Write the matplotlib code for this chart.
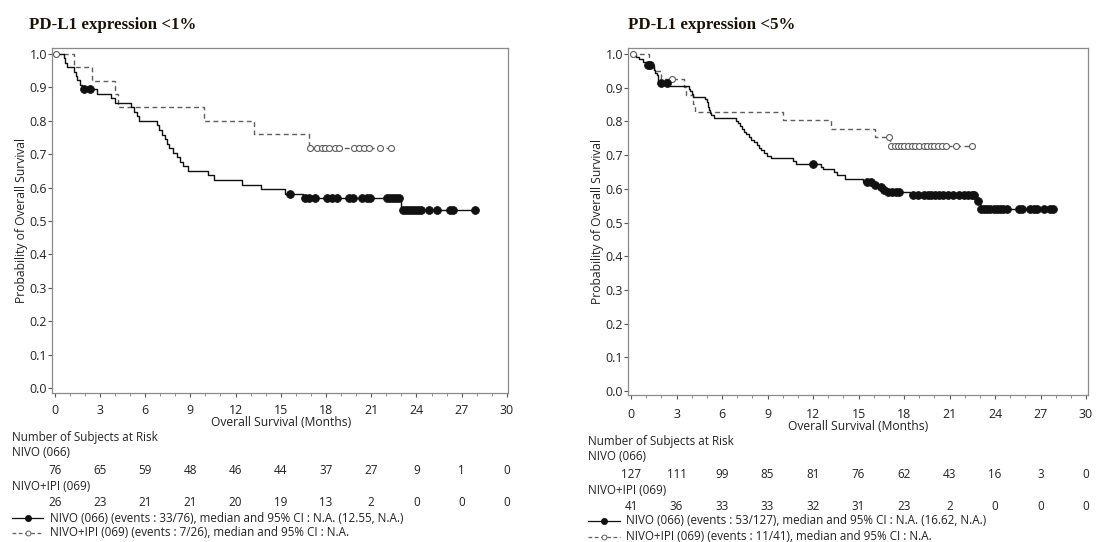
import matplotlib
matplotlib.use("Agg")
import matplotlib.pyplot as plt
from matplotlib.lines import Line2D
from matplotlib.transforms import blended_transform_factory
import numpy as np

W, H = 1109, 542
plt.rcParams['font.family'] = ['Open Sans', 'DejaVu Sans']

# ---------------- data: PD-L1 < 1% ----------------
L_NIVO_T = [0, 0.6, 0.7, 0.85, 1.3, 1.4, 1.5, 1.7, 1.8, 2.8, 3.75, 4.0, 5.1, 5.25, 5.45, 5.6,
            6.8, 6.95, 7.1, 7.3, 7.45, 7.6, 7.85, 8.1, 8.35, 8.55, 8.85, 10.2, 10.55, 12.4,
            13.7, 15.3, 16.5, 23.0]
L_NIVO_S = [1.0, 0.987, 0.974, 0.961, 0.947, 0.934, 0.921, 0.908, 0.895, 0.881, 0.868, 0.854,
            0.841, 0.827, 0.814, 0.800, 0.786, 0.773, 0.759, 0.745, 0.732, 0.718, 0.705, 0.691,
            0.678, 0.664, 0.650, 0.637, 0.623, 0.609, 0.596, 0.582, 0.568, 0.534]
L_NIVO_CENS = [1.95, 2.35, 15.6, 16.6, 16.9, 17.3, 18.05, 18.4, 18.7, 19.5, 19.8, 20.4, 20.7,
               20.95, 22.05, 22.25, 22.45, 22.65, 22.85, 23.1, 23.3, 23.5, 23.7, 23.9, 24.1,
               24.3, 24.8, 25.35, 26.25, 26.45, 27.85]
L_COMB_T = [0, 1.26, 2.5, 4.0, 4.2, 9.9, 13.25, 16.9]
L_COMB_S = [1.0, 0.96, 0.92, 0.88, 0.84, 0.80, 0.76, 0.72]
L_COMB_CENS = [0.1, 16.95, 17.4, 17.75, 17.95, 18.2, 18.6, 18.85, 19.85, 20.2, 20.5, 20.85,
               21.6, 22.3]
L_RISK_NIVO = [76, 65, 59, 48, 46, 44, 37, 27, 9, 1, 0]
L_RISK_COMB = [26, 23, 21, 21, 20, 19, 13, 2, 0, 0, 0]

# ---------------- data: PD-L1 < 5% ----------------
R_NIVO_T = [0, 0.35, 0.5, 0.8, 1.0, 1.4, 1.5, 1.6, 1.7, 1.75, 1.8, 1.85, 2.45, 3.8, 3.9, 4.0,
            4.1, 4.9, 5.0, 5.05, 5.1, 5.15, 5.2, 5.3, 5.45, 6.9, 7.05, 7.2, 7.3, 7.45, 7.6,
            7.75, 7.9, 8.1, 8.3, 8.45, 8.6, 8.8, 8.95, 9.2, 10.7, 10.9, 12.5, 12.65, 13.35,
            13.55, 14.1, 15.3, 16.0, 16.3, 16.6, 16.8, 18.4, 22.75, 23.0]
R_NIVO_S = [1.0, 0.992, 0.984, 0.976, 0.969, 0.961, 0.953, 0.945, 0.937, 0.929, 0.921, 0.913,
            0.905, 0.897, 0.889, 0.881, 0.873, 0.866, 0.858, 0.850, 0.842, 0.834, 0.826, 0.818,
            0.810, 0.802, 0.794, 0.786, 0.778, 0.770, 0.762, 0.754, 0.746, 0.738, 0.730, 0.722,
            0.714, 0.706, 0.698, 0.692, 0.683, 0.675, 0.666, 0.658, 0.649, 0.641, 0.628, 0.620,
            0.612, 0.605, 0.597, 0.590, 0.582, 0.563, 0.541]
R_NIVO_CENS = [1.15, 1.25, 1.95, 2.35, 12.0, 15.55, 15.8, 16.1, 16.45, 16.7, 16.95, 17.2, 17.45,
               17.7, 18.6, 18.95, 19.3, 19.55, 19.8, 20.05, 20.3, 20.6, 20.9, 21.25, 21.6,
               21.95, 22.2, 22.45, 22.6, 22.85, 23.1, 23.3, 23.5, 23.7, 23.9, 24.1, 24.3,
               24.55, 24.8, 25.55, 25.75, 26.3, 26.55, 26.8, 27.2, 27.6, 27.85]
R_COMB_T = [0, 1.2, 1.5, 2.0, 3.5, 3.6, 4.1, 4.2, 10.0, 13.2, 16.1, 17.05]
R_COMB_S = [1.0, 0.976, 0.951, 0.927, 0.902, 0.878, 0.853, 0.829, 0.804, 0.779, 0.754, 0.727]
R_COMB_CENS = [0.1, 2.7, 17.0, 17.15, 17.4, 17.6, 17.8, 18.0, 18.25, 18.5, 18.75, 19.0, 19.3,
               19.5, 19.75, 20.0, 20.25, 20.5, 20.75, 21.4, 22.5]
R_RISK_NIVO = [127, 111, 99, 85, 81, 76, 62, 43, 16, 3, 0]
R_RISK_COMB = [41, 36, 33, 33, 32, 31, 23, 2, 0, 0, 0]

RISK_TIMES = [0, 3, 6, 9, 12, 15, 18, 21, 24, 27, 30]
Y_TICKS = [0.0, 0.1, 0.2, 0.3, 0.4, 0.5, 0.6, 0.7, 0.8, 0.9, 1.0]

TITLES = ["PD-L1 expression <1%", "PD-L1 expression <5%"]
LEG_NIVO = ["NIVO (066) (events : 33/76), median and 95% CI : N.A. (12.55, N.A.)",
            "NIVO (066) (events : 53/127), median and 95% CI : N.A. (16.62, N.A.)"]
LEG_COMB = ["NIVO+IPI (069) (events : 7/26), median and 95% CI : N.A.",
            "NIVO+IPI (069) (events : 11/41), median and 95% CI : N.A."]

NIVO_COLOR = '#111111'
COMB_COLOR = '#5e5e5e'
TXT = '#222222'

fig = plt.figure(figsize=(W / 100, H / 100), dpi=100)
fig.patch.set_facecolor('white')


def fx(x):
    return x / W


def fy(y):
    return 1 - y / H


def km(ax, T, S, cens, color, dashed, filled):
    t_end = max(max(cens), T[-1])
    tt = list(T) + [t_end]
    ss = list(S) + [S[-1]]
    line, = ax.step(tt, ss, where='post', color=color, lw=1.0)
    if dashed:
        line.set_dashes((3.5, 2.5))
    Tn = np.asarray(T)
    Sn = np.asarray(S)
    cy = [Sn[np.searchsorted(Tn, c, side='right') - 1] for c in cens]
    if filled:
        ax.plot(cens, cy, 'o', ms=5.6, mfc=color, mec=color, mew=0.6, ls='none', zorder=4)
    else:
        ax.plot(cens, cy, 'o', ms=4.3, mfc='white', mec=color, mew=0.8, ls='none', zorder=4)


panels = [
    dict(rect=(52, 48, 508, 393), ylim=(-0.015, 1.018), xlim=(-0.17, 30.07),
         nivo=(L_NIVO_T, L_NIVO_S, L_NIVO_CENS), comb=(L_COMB_T, L_COMB_S, L_COMB_CENS),
         rn=L_RISK_NIVO, rc=L_RISK_COMB, title_xy=(29, 25), ylab_x=28,
         rows=dict(tick=411, xlab=423, nsar=437, n1=453, v1=470, n2=486, v2=502, l1=518, l2=533),
         text_x=12, leg_x0=12, leg_x1=43, leg_tx=50),
    dict(rect=(628, 48, 1088, 395), ylim=(-0.012, 1.018), xlim=(-0.2, 30.13),
         nivo=(R_NIVO_T, R_NIVO_S, R_NIVO_CENS), comb=(R_COMB_T, R_COMB_S, R_COMB_CENS),
         rn=R_RISK_NIVO, rc=R_RISK_COMB, title_xy=(628, 25), ylab_x=604,
         rows=dict(tick=414, xlab=426, nsar=441, n1=457, v1=474, n2=490, v2=506, l1=521, l2=537),
         text_x=588, leg_x0=588, leg_x1=620, leg_tx=626),
]

FS = 8.4
TFS = 8.9
for i, p in enumerate(panels):
    x0, y0, x1, y1 = p['rect']
    ax = fig.add_axes([fx(x0), fy(y1), (x1 - x0) / W, (y1 - y0) / H])
    ax.set_xlim(*p['xlim'])
    ax.set_ylim(*p['ylim'])
    for s in ax.spines.values():
        s.set_color('#8a8a8a')
        s.set_linewidth(0.9)
    ax.set_xticks(RISK_TIMES)
    ax.set_xticks(np.arange(0, 31, 1), minor=True)
    ax.set_yticks(Y_TICKS)
    ax.set_yticklabels([f"{v:.1f}" for v in Y_TICKS])
    ax.tick_params(axis='both', which='major', direction='out', length=3, width=0.8,
                   color='#555555', labelsize=TFS, labelcolor=TXT, pad=0.6)
    ax.tick_params(axis='x', which='minor', direction='out', length=2, width=0.6, color='#777777')
    ax.set_xticklabels([])
    tr = blended_transform_factory(ax.transData, fig.transFigure)
    r = p['rows']
    for t in RISK_TIMES:
        ax.text(t, fy(r['tick']), str(t), transform=tr, ha='center', va='center',
                fontsize=TFS, color=TXT)
    ax.text(15, fy(r['xlab']), "Overall Survival (Months)", transform=tr, ha='center',
            va='center', fontsize=FS + 0.3, color=TXT)
    ax.set_ylabel("Probability of Overall Survival", fontsize=FS + 0.3, color=TXT)
    ax.yaxis.set_label_coords(fx(p['ylab_x']), 0.5,
                              transform=blended_transform_factory(fig.transFigure, ax.transAxes))

    km(ax, *p['comb'], COMB_COLOR, True, False)
    km(ax, *p['nivo'], NIVO_COLOR, False, True)

    fig.text(fx(p['title_xy'][0]), fy(p['title_xy'][1]), TITLES[i], family='Liberation Serif',
             fontweight='bold', fontsize=12.2, ha='left', va='center', color='#1a1208')

    tx = fx(p['text_x'])
    fig.text(tx, fy(r['nsar']), "Number of Subjects at Risk", fontsize=FS, ha='left', va='center', color=TXT)
    fig.text(tx, fy(r['n1']), "NIVO (066)", fontsize=FS, ha='left', va='center', color=TXT)
    fig.text(tx, fy(r['n2']), "NIVO+IPI (069)", fontsize=FS, ha='left', va='center', color=TXT)
    for t, a, b in zip(RISK_TIMES, p['rn'], p['rc']):
        ax.text(t, fy(r['v1']), str(a), transform=tr, ha='center', va='center', fontsize=FS, color=TXT)
        ax.text(t, fy(r['v2']), str(b), transform=tr, ha='center', va='center', fontsize=FS, color=TXT)

    # legend
    lx0, lx1 = fx(p['leg_x0']), fx(p['leg_x1'])
    fig.add_artist(Line2D([lx0, lx1], [fy(r['l1'])] * 2, color=NIVO_COLOR, lw=0.9))
    fig.add_artist(Line2D([(lx0 + lx1) / 2], [fy(r['l1'])], marker='o', ms=4, color=NIVO_COLOR, ls='none'))
    l2 = Line2D([lx0, lx1], [fy(r['l2'])] * 2, color=COMB_COLOR, lw=0.9)
    l2.set_dashes((3, 2))
    fig.add_artist(l2)
    fig.add_artist(Line2D([(lx0 + lx1) / 2], [fy(r['l2'])], marker='o', ms=3.5, mfc='white',
                          mec=COMB_COLOR, mew=0.7, ls='none'))
    fig.text(fx(p['leg_tx']), fy(r['l1']), LEG_NIVO[i], fontsize=FS, ha='left', va='center', color=TXT)
    fig.text(fx(p['leg_tx']), fy(r['l2']), LEG_COMB[i], fontsize=FS, ha='left', va='center', color=TXT)

fig.savefig('out.png', dpi=100, facecolor='white')
